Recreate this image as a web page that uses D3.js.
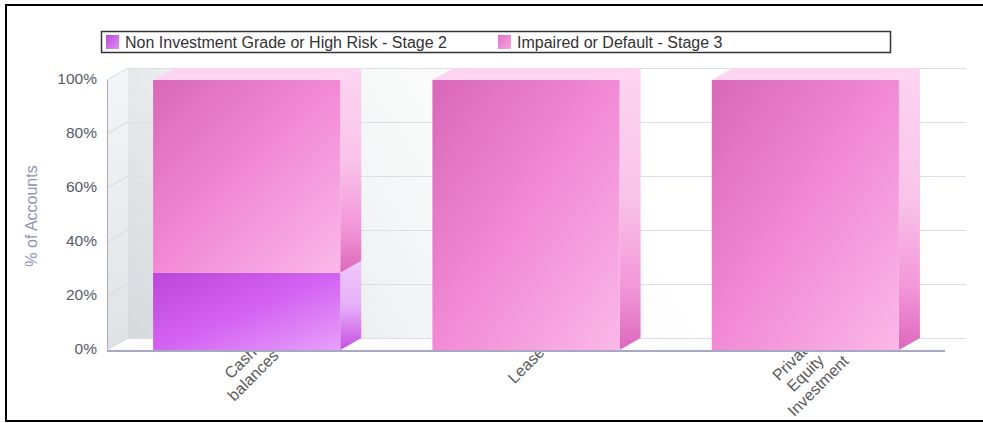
<!DOCTYPE html>
<html>
<head>
<meta charset="utf-8">
<script src="https://cdn.jsdelivr.net/npm/d3@7/dist/d3.min.js"></script>
<style>
  html, body { margin: 0; padding: 0; background: #ffffff; }
  svg { display: block; }
  text { font-family: "Liberation Sans", Arial, sans-serif; }
</style>
</head>
<body>
<svg id="chart" width="983" height="423"></svg>
<script>
// ---- data ----
const categories = ["Cash balances", "Lease", "Private Equity Investment"];
const categoryLines = [["Cash", "balances"], ["Lease"], ["Private", "Equity", "Investment"]];
const seriesNames = ["Non Investment Grade or High Risk - Stage 2", "Impaired or Default - Stage 3"];
const stage2Values = [28.6, 0, 0];
const stage3Values = [71.4, 100, 100];
const yTickValues = [0, 20, 40, 60, 80, 100];
const yTickLabels = ["0%", "20%", "40%", "60%", "80%", "100%"];
const yAxisTitle = "% of Accounts";

// ---- layout ----
const W = 983, H = 423;
const plotLeft = 107, plotRight = 945, plotBottom = 350, plotTop = 80;
const DX = 21, DY = -12; // 3D depth offset

const svg = d3.select("#chart");
const defs = svg.append("defs");

function linGrad(id, x1, y1, x2, y2, stops, units) {
  const g = defs.append("linearGradient").attr("id", id)
    .attr("x1", x1).attr("y1", y1).attr("x2", x2).attr("y2", y2);
  if (units) g.attr("gradientUnits", units);
  stops.forEach(s => g.append("stop").attr("offset", s[0]).attr("stop-color", s[1]));
  return "url(#" + id + ")";
}

const x = d3.scaleBand().domain(categories).range([plotLeft, plotRight])
  .paddingInner(0.33).paddingOuter(0.165);
const y = d3.scaleLinear().domain([0, 100]).range([plotBottom, plotTop]);

// background
svg.append("rect").attr("width", W).attr("height", H).attr("fill", "#ffffff");

// back wall
const backWallFill = linGrad("backWall", plotLeft + DX, plotBottom + DY, 540, plotTop + DY,
  [[0, "#d6d9dc"], [0.5, "#f2f3f4"], [1, "#ffffff"]], "userSpaceOnUse");
svg.append("rect")
  .attr("x", plotLeft + DX).attr("y", y(100) + DY)
  .attr("width", plotRight - plotLeft).attr("height", y(0) - y(100))
  .attr("fill", backWallFill);

// left wall
const leftWallFill = linGrad("leftWall", 0, 0, 0, 1, [[0, "#f4f5f6"], [1, "#dfe2e4"]]);
svg.append("polygon")
  .attr("points", [[plotLeft, y(100)], [plotLeft + DX, y(100) + DY], [plotLeft + DX, y(0) + DY], [plotLeft, y(0)]].join(" "))
  .attr("fill", leftWallFill);

// floor
svg.append("polygon")
  .attr("points", [[plotLeft, y(0)], [plotLeft + DX, y(0) + DY], [plotRight + DX, y(0) + DY], [plotRight, y(0)]].join(" "))
  .attr("fill", "#fdfdfd");

// gridlines
const grid = svg.append("g");
yTickValues.forEach(v => {
  grid.append("line")
    .attr("x1", plotLeft + DX).attr("x2", plotRight + DX)
    .attr("y1", y(v) + DY + 0.5).attr("y2", y(v) + DY + 0.5)
    .attr("stroke", "#dcdde6").attr("stroke-width", 1);
  grid.append("line")
    .attr("x1", plotLeft).attr("y1", y(v))
    .attr("x2", plotLeft + DX).attr("y2", y(v) + DY)
    .attr("stroke", "#d4d6e0").attr("stroke-width", 1);
});

// y axis line
svg.append("line")
  .attr("x1", plotLeft + 0.5).attr("x2", plotLeft + 0.5)
  .attr("y1", y(100)).attr("y2", y(0) + 1)
  .attr("stroke", "#a9abc6").attr("stroke-width", 1);

// y tick labels
const yAxis = d3.axisLeft(y).tickValues(yTickValues)
  .tickFormat((d, i) => yTickLabels[i]).tickSize(0).tickPadding(10);
const yg = svg.append("g").attr("transform", `translate(${plotLeft},-1)`).call(yAxis);
yg.select(".domain").remove();
yg.selectAll("text")
  .attr("font-size", "15.5px")
  .attr("fill", "#555a66")
  .attr("font-family", "Liberation Sans, Arial, sans-serif");

// y axis title
svg.append("text")
  .attr("transform", `translate(37,216) rotate(-90)`)
  .attr("text-anchor", "middle")
  .attr("font-size", "16px")
  .attr("fill", "#8f94b4")
  .text(yAxisTitle);

// x labels (drawn behind bars)
const xl = svg.append("g").attr("clip-path", "url(#clipBottom)");
defs.append("clipPath").attr("id", "clipBottom")
  .append("rect").attr("x", 0).attr("y", 0).attr("width", W).attr("height", 420);
categories.forEach((c, i) => {
  const lines = categoryLines[i];
  const n = lines.length;
  const cx = x(c) + x.bandwidth() / 2;
  const cy = plotBottom + 15 + 4 * (n - 1);
  const lh = 18;
  const t = xl.append("text")
    .attr("transform", `translate(${cx},${cy}) rotate(-45)`)
    .attr("text-anchor", "middle")
    .attr("font-size", "16px")
    .attr("fill", "#5a5a5a");
  lines.forEach((ln, j) => {
    t.append("tspan").attr("x", 0)
      .attr("y", (j - (n - 1) / 2) * lh)
      .attr("dy", "0.35em")
      .text(ln);
  });
});

// x axis line
svg.append("line")
  .attr("x1", plotLeft).attr("x2", plotRight)
  .attr("y1", plotBottom + 1).attr("y2", plotBottom + 1)
  .attr("stroke", "#a6a8c4").attr("stroke-width", 2);

// series styles
const frontFills = [
  linGrad("front2", 0, 0, 1, 1, [[0, "#bb46d8"], [0.5, "#d462f2"], [1, "#e6a0fa"]]),
  linGrad("front3", 0, 0, 1, 1, [[0, "#d868b9"], [0.5, "#f28ad6"], [1, "#fab8e8"]])
];
const sideFills = [
  linGrad("side2", 0, 0, 0, 1, [[0, "#eec8fb"], [0.5, "#e6b0f8"], [1, "#c64ee2"]]),
  linGrad("side3", 0, 0, 0, 1, [[0, "#fcd4f0"], [0.45, "#f9c4ea"], [0.78, "#f396d8"], [1, "#dc68bc"]])
];
const topFills = ["#f0c8fb", "#fcd6f1"];

// bars
const bars = svg.append("g");
categories.forEach((c, i) => {
  const x0 = x(c), bw = x.bandwidth();
  const segs = [
    { s: 0, v0: 0, v1: stage2Values[i] },
    { s: 1, v0: stage2Values[i], v1: stage2Values[i] + stage3Values[i] }
  ].filter(d => d.v1 > d.v0);
  segs.forEach((d, k) => {
    const yt = y(d.v1), yb = y(d.v0);
    bars.append("polygon")
      .attr("points", [[x0 + bw, yt], [x0 + bw + DX, yt + DY], [x0 + bw + DX, yb + DY], [x0 + bw, yb]].join(" "))
      .attr("fill", sideFills[d.s]);
    if (k === segs.length - 1) {
      bars.append("polygon")
        .attr("points", [[x0, yt], [x0 + DX, yt + DY], [x0 + bw + DX, yt + DY], [x0 + bw, yt]].join(" "))
        .attr("fill", topFills[d.s]);
    }
    bars.append("rect")
      .attr("x", x0).attr("y", yt)
      .attr("width", bw).attr("height", yb - yt)
      .attr("fill", frontFills[d.s]);
  });
});

// legend
const lg = svg.append("g");
lg.append("rect").attr("x", 101.5).attr("y", 31.5).attr("width", 789).attr("height", 21)
  .attr("fill", "#ffffff").attr("stroke", "#333333").attr("stroke-width", 1.5);
const legendX = [106, 498];
const legendSw = [
  linGrad("lsw2", 0, 0, 1, 1, [[0, "#b84ad8"], [1, "#e090f4"]]),
  linGrad("lsw3", 0, 0, 1, 1, [[0, "#e070c4"], [1, "#f8a8e0"]])
];
seriesNames.forEach((nm, i) => {
  lg.append("rect").attr("x", legendX[i]).attr("y", 35).attr("width", 13).attr("height", 14)
    .attr("fill", legendSw[i]);
  lg.append("text").attr("x", legendX[i] + 19).attr("y", 47.5)
    .attr("font-size", "16px").attr("fill", "#333333").text(nm);
});

// outer border
svg.append("rect").attr("x", 6).attr("y", 5).attr("width", 1000).attr("height", 416)
  .attr("fill", "none").attr("stroke", "#000000").attr("stroke-width", 2);
</script>
</body>
</html>
